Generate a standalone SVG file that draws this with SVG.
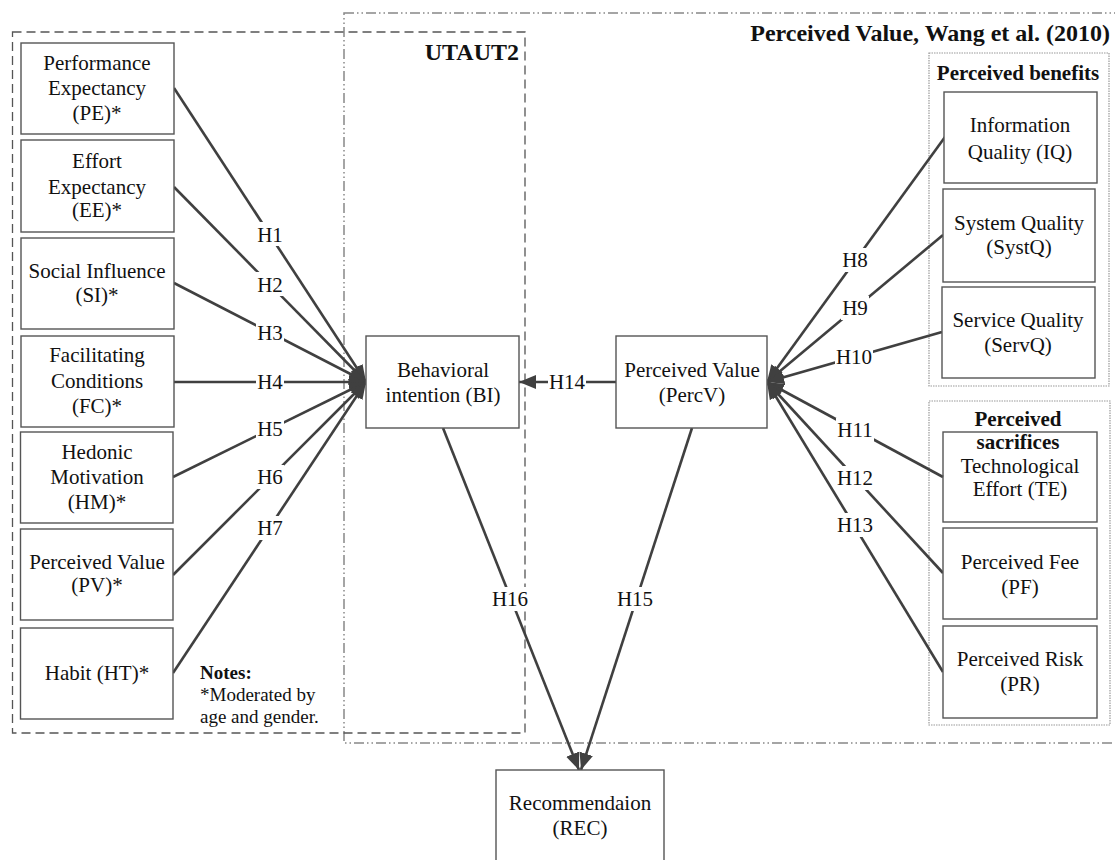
<svg xmlns="http://www.w3.org/2000/svg" width="1115" height="860" viewBox="0 0 1115 860" font-family="'Liberation Serif','Times New Roman',serif">
<style>
text{font-family:"Liberation Serif","Times New Roman",serif;fill:#111}
.n{font-size:21px;text-anchor:middle}
.b{fill:#fff;stroke:#555;stroke-width:1.4}
.c{stroke:#404040;stroke-width:2.6;fill:none}
.lb{font-size:21px;text-anchor:middle}
.lbg{fill:#fff}
.t{font-weight:bold}
</style>
<defs>
<marker id="ah" markerUnits="userSpaceOnUse" markerWidth="18" markerHeight="15" refX="17" refY="7.5" orient="auto">
<path d="M0,0.5 L17,7.5 L0,14.5 z" fill="#404040"/>
</marker>
</defs>
<rect width="1115" height="860" fill="#fff"/>
<g id="frames">
<rect x="344" y="13" width="800" height="730" fill="none" stroke="#888" stroke-width="1.5" stroke-dasharray="10,3,1.5,3,1.5,3"/>
<rect x="12.5" y="32" width="512.5" height="701" fill="none" stroke="#555" stroke-width="1.3" stroke-dasharray="9,5"/>
<rect x="929" y="53" width="180" height="333" fill="none" stroke="#999" stroke-width="1.2" stroke-dasharray="1.5,1"/>
<rect x="929" y="401" width="181" height="324" fill="none" stroke="#999" stroke-width="1.2" stroke-dasharray="1.5,1"/>
<text x="519" y="60" font-size="24" text-anchor="end" class="t">UTAUT2</text>
<text x="1110" y="41" font-size="24" text-anchor="end" class="t">Perceived Value, Wang et al. (2010)</text>
<text x="1018" y="80" font-size="21" text-anchor="middle" class="t">Perceived benefits</text>
<text x="1018" y="426" font-size="21" text-anchor="middle" class="t">Perceived</text>
<text x="1018" y="449" font-size="21" text-anchor="middle" class="t">sacrifices</text>
<text x="200" y="679" font-size="19" class="t">Notes:</text>
<text x="200" y="701" font-size="19">*Moderated by</text>
<text x="200" y="723" font-size="19">age and gender.</text>
</g>
<g id="connectors">
<line class="c" x1="174" y1="88" x2="366" y2="382" marker-end="url(#ah)"/>
<line class="c" x1="174" y1="187" x2="366" y2="382" marker-end="url(#ah)"/>
<line class="c" x1="174" y1="283" x2="366" y2="382" marker-end="url(#ah)"/>
<line class="c" x1="174" y1="382" x2="366" y2="382" marker-end="url(#ah)"/>
<line class="c" x1="173" y1="477" x2="366" y2="382" marker-end="url(#ah)"/>
<line class="c" x1="173" y1="575" x2="366" y2="382" marker-end="url(#ah)"/>
<line class="c" x1="173" y1="673" x2="366" y2="382" marker-end="url(#ah)"/>
<line class="c" x1="945" y1="137" x2="767" y2="382" marker-end="url(#ah)"/>
<line class="c" x1="943" y1="235" x2="767" y2="382" marker-end="url(#ah)"/>
<line class="c" x1="942" y1="332" x2="767" y2="382" marker-end="url(#ah)"/>
<line class="c" x1="943" y1="477" x2="767" y2="382" marker-end="url(#ah)"/>
<line class="c" x1="943" y1="573" x2="767" y2="382" marker-end="url(#ah)"/>
<line class="c" x1="943" y1="672" x2="767" y2="382" marker-end="url(#ah)"/>
<line class="c" x1="616" y1="382" x2="519" y2="382" marker-end="url(#ah)"/>
<line class="c" x1="443" y1="428" x2="579" y2="770" marker-end="url(#ah)"/>
<line class="c" x1="692" y1="428" x2="581" y2="770" marker-end="url(#ah)"/>
<g>
<rect class="lbg" x="256" y="222" width="28" height="24"/><text class="lb" x="270" y="242">H1</text>
<rect class="lbg" x="256" y="272" width="28" height="24"/><text class="lb" x="270" y="292">H2</text>
<rect class="lbg" x="256" y="321" width="28" height="24"/><text class="lb" x="270" y="340">H3</text>
<rect class="lbg" x="256" y="370" width="28" height="24"/><text class="lb" x="270" y="389">H4</text>
<rect class="lbg" x="256" y="417" width="28" height="24"/><text class="lb" x="270" y="436">H5</text>
<rect class="lbg" x="256" y="465" width="28" height="24"/><text class="lb" x="270" y="484">H6</text>
<rect class="lbg" x="256" y="516" width="28" height="24"/><text class="lb" x="270" y="535">H7</text>
<rect class="lbg" x="841" y="248" width="28" height="24"/><text class="lb" x="855" y="267">H8</text>
<rect class="lbg" x="841" y="296" width="28" height="24"/><text class="lb" x="855" y="315">H9</text>
<rect class="lbg" x="835" y="345" width="38" height="24"/><text class="lb" x="854" y="364">H10</text>
<rect class="lbg" x="836" y="418" width="38" height="24"/><text class="lb" x="855" y="437">H11</text>
<rect class="lbg" x="836" y="466" width="38" height="24"/><text class="lb" x="855" y="485">H12</text>
<rect class="lbg" x="836" y="513" width="38" height="24"/><text class="lb" x="855" y="532">H13</text>
<rect class="lbg" x="548" y="370" width="38" height="24"/><text class="lb" x="567" y="389">H14</text>
<rect class="lbg" x="616" y="587" width="38" height="24"/><text class="lb" x="635" y="606">H15</text>
<rect class="lbg" x="491" y="587" width="38" height="24"/><text class="lb" x="510" y="606">H16</text>
</g>
</g>
<g id="PE"><rect class="b" x="21" y="43" width="153" height="91"/><text class="n" x="97" y="70">Performance</text><text class="n" x="97" y="95">Expectancy</text><text class="n" x="97" y="120">(PE)*</text></g>
<g id="EE"><rect class="b" x="21" y="140" width="153" height="92"/><text class="n" x="97" y="168">Effort</text><text class="n" x="97" y="194">Expectancy</text><text class="n" x="97" y="217">(EE)*</text></g>
<g id="SI"><rect class="b" x="21" y="238" width="153" height="91"/><text class="n" x="97" y="278">Social Influence</text><text class="n" x="97" y="302">(SI)*</text></g>
<g id="FC"><rect class="b" x="21" y="336" width="153" height="91"/><text class="n" x="97" y="362">Facilitating</text><text class="n" x="97" y="388">Conditions</text><text class="n" x="97" y="413">(FC)*</text></g>
<g id="HM"><rect class="b" x="20.5" y="432" width="152.5" height="91"/><text class="n" x="97" y="459">Hedonic</text><text class="n" x="97" y="484">Motivation</text><text class="n" x="97" y="509">(HM)*</text></g>
<g id="PV"><rect class="b" x="20.5" y="529" width="152.5" height="91"/><text class="n" x="97" y="569">Perceived Value</text><text class="n" x="97" y="592">(PV)*</text></g>
<g id="HT"><rect class="b" x="20.5" y="628" width="152.5" height="91"/><text class="n" x="97" y="680">Habit (HT)*</text></g>
<g id="BI"><rect class="b" x="366" y="336" width="153" height="92"/><text class="n" x="443" y="377">Behavioral</text><text class="n" x="443" y="402">intention (BI)</text></g>
<g id="PercV"><rect class="b" x="616" y="336" width="151" height="92"/><text class="n" x="692" y="377">Perceived Value</text><text class="n" x="692" y="402">(PercV)</text></g>
<g id="IQ"><rect class="b" x="944" y="92" width="153" height="91"/><text class="n" x="1020" y="132">Information</text><text class="n" x="1020" y="159">Quality (IQ)</text></g>
<g id="SystQ"><rect class="b" x="943" y="189" width="152" height="93"/><text class="n" x="1019" y="230">System Quality</text><text class="n" x="1019" y="254">(SystQ)</text></g>
<g id="ServQ"><rect class="b" x="942" y="287" width="153" height="91"/><text class="n" x="1018" y="327">Service Quality</text><text class="n" x="1018" y="352">(ServQ)</text></g>
<g id="TE"><rect class="b" x="943" y="432" width="154" height="90" style="fill:none"/><text class="n" x="1020" y="473">Technological</text><text class="n" x="1020" y="496">Effort (TE)</text></g>
<g id="PF"><rect class="b" x="943" y="528" width="154" height="91"/><text class="n" x="1020" y="569">Perceived Fee</text><text class="n" x="1020" y="594">(PF)</text></g>
<g id="PR"><rect class="b" x="943" y="626" width="154" height="92"/><text class="n" x="1020" y="666">Perceived Risk</text><text class="n" x="1020" y="691">(PR)</text></g>
<g id="REC"><rect class="b" x="496" y="770" width="168" height="100"/><text class="n" x="580" y="810">Recommendaion</text><text class="n" x="580" y="835">(REC)</text></g>
</svg>
